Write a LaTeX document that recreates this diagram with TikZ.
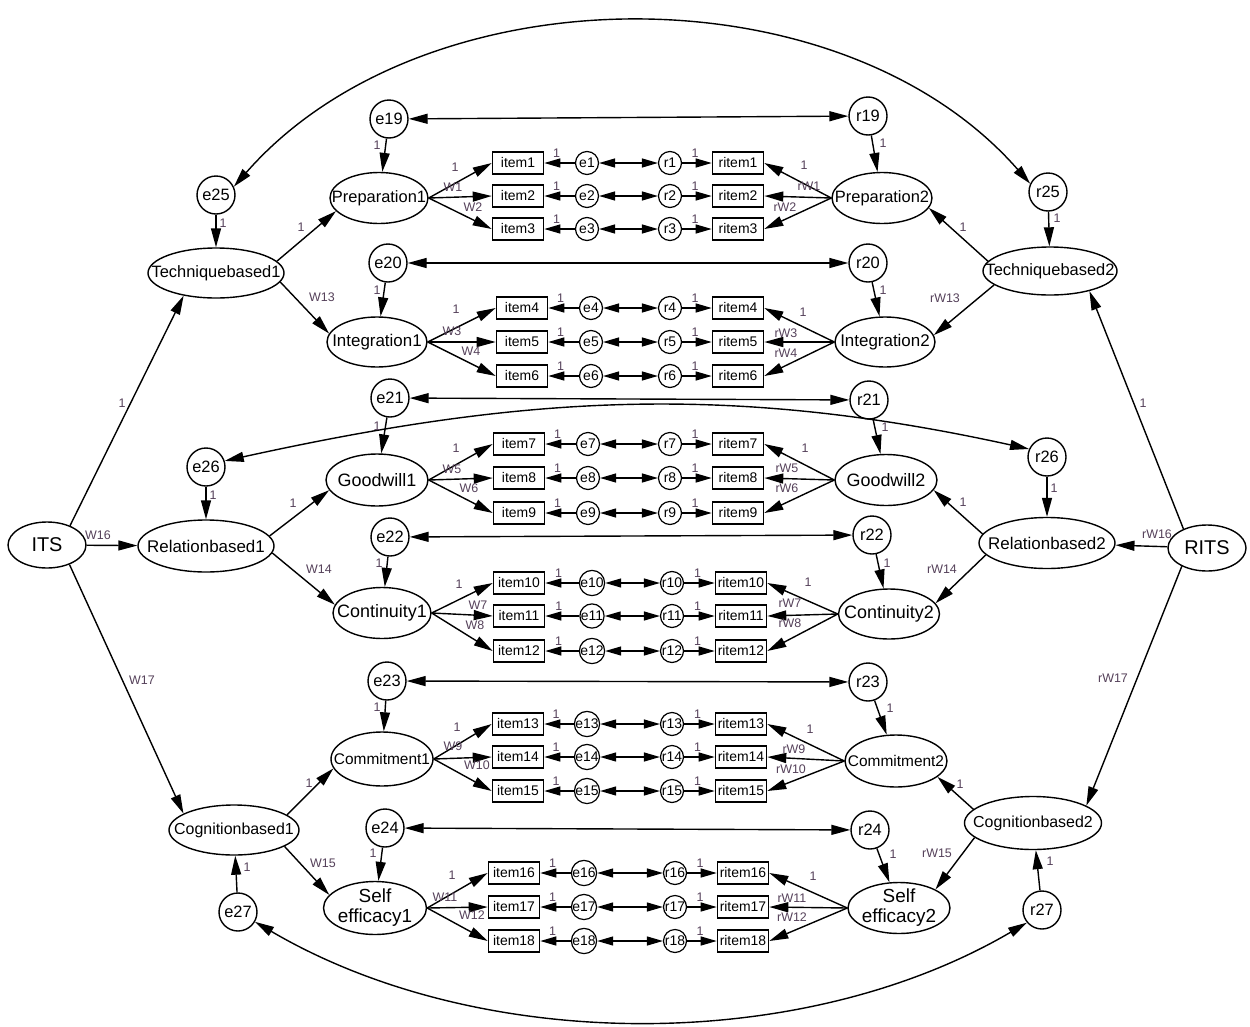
\documentclass[tikz,border=0pt]{standalone}
\usepackage{fontspec}
\setmainfont{Liberation Sans}
\usetikzlibrary{arrows.meta,shapes.geometric}
\definecolor{lblc}{RGB}{85,65,90}
\newcommand\fsz[1]{\fontsize{#1}{#1}\selectfont}
\begin{document}
\begin{tikzpicture}[x=1bp,y=-1bp,
  lat/.style={ellipse,draw,line width=1.4bp,inner xsep=-40bp,inner ysep=0pt},
  err/.style={circle,draw,line width=1.4bp,inner sep=0pt,minimum size=38bp,font=\fsz{16.5}},
  sm/.style={circle,draw,line width=1.2bp,inner sep=0pt,minimum size=23bp,font=\fsz{14}},
  box/.style={rectangle,draw,line width=1.6bp,inner sep=0pt,minimum width=51bp,minimum height=22bp,font=\fsz{14}},
  arr/.style={line width=1.4bp,-{Triangle[length=19bp,width=10bp]}},
  sarr/.style={line width=1.3bp,-{Triangle[length=16bp,width=9bp]}},
  darr/.style={line width=1.4bp,{Triangle[length=19bp,width=10bp]}-{Triangle[length=19bp,width=10bp]}},
  sdarr/.style={line width=1.3bp,{Triangle[length=16bp,width=9bp]}-{Triangle[length=16bp,width=9bp]}},
  lbl/.style={font=\fsz{12.5},text=lblc,inner sep=0pt}]
\fill[white] (0,0) rectangle (1250,1027);
\useasboundingbox (0,0) rectangle (1250,1027);

% latent variables
\node[lat,minimum width=78bp,minimum height=46bp,font=\fsz{20}] (ITS) at (47,545) {ITS};
\node[lat,minimum width=78bp,minimum height=46bp,font=\fsz{20}] (RITS) at (1207,548) {RITS};
\node[lat,minimum width=136bp,minimum height=50bp,font=\fsz{16.5}] (Tech1) at (216,273) {Techniquebased1};
\node[lat,minimum width=136bp,minimum height=52bp,font=\fsz{17}] (Rel1) at (206,546) {Relationbased1};
\node[lat,minimum width=130bp,minimum height=50bp,font=\fsz{16}] (Cog1) at (234,830) {Cognitionbased1};
\node[lat,minimum width=134bp,minimum height=48bp,font=\fsz{16.5}] (Tech2) at (1050,271) {Techniquebased2};
\node[lat,minimum width=136bp,minimum height=51bp,font=\fsz{17}] (Rel2) at (1047,543) {Relationbased2};
\node[lat,minimum width=137bp,minimum height=53bp,font=\fsz{16}] (Cog2) at (1033,823) {Cognitionbased2};
\node[lat,minimum width=98bp,minimum height=51bp,font=\fsz{16.5}] (Prep1) at (379,198) {Preparation1};
\node[lat,minimum width=100bp,minimum height=51bp,font=\fsz{16.5}] (Prep2) at (882,198) {Preparation2};
\node[lat,minimum width=100bp,minimum height=50bp,font=\fsz{17}] (Integ1) at (377,342) {Integration1};
\node[lat,minimum width=100bp,minimum height=50bp,font=\fsz{17}] (Integ2) at (885,342) {Integration2};
\node[lat,minimum width=102bp,minimum height=52bp,font=\fsz{18}] (Good1) at (377,480) {Goodwill1};
\node[lat,minimum width=102bp,minimum height=51bp,font=\fsz{18}] (Good2) at (886,480) {Goodwill2};
\node[lat,minimum width=98bp,minimum height=51bp,font=\fsz{18}] (Cont1) at (382,613) {Continuity1};
\node[lat,minimum width=101bp,minimum height=50bp,font=\fsz{18}] (Cont2) at (889,614) {Continuity2};
\node[lat,minimum width=102bp,minimum height=54bp,font=\fsz{15.5}] (Commit1) at (382,759) {Commitment1};
\node[lat,minimum width=102bp,minimum height=52bp,font=\fsz{15.5}] (Commit2) at (896,761) {Commitment2};
\node[lat,minimum width=103bp,minimum height=53bp,inner ysep=-4bp,align=center,font=\fontsize{19}{20}\selectfont] (Self1) at (375,908) {Self\\efficacy1};
\node[lat,minimum width=102bp,minimum height=51bp,inner ysep=-4bp,align=center,font=\fontsize{19}{20}\selectfont] (Self2) at (899,908) {Self\\efficacy2};

% error terms
\foreach \n/\x/\y in {e19/389/119,e20/388/263,e21/390/398,e22/390/537,e23/387/681,e24/385/828,e25/216/195,e26/206/467,e27/238/912,
  r19/868/116,r20/868/263,r21/869/400,r22/872/535,r23/868/682,r24/870/830,r25/1048/192,r26/1047/457,r27/1042/910}
  \node[err] (\n) at (\x,\y) {\n};

% item rows
\foreach \i/\y/\xi/\xe/\xr/\xq in {1/163/518/587/670/738,2/196/518/587/670/738,3/229/518/587/670/738,
  4/308/522/591/670/738,5/342/522/591/670/738,6/376/522/591/670/738,
  7/444/519/588/670/738,8/478/519/588/670/738,9/513/519/588/670/738,
  10/583/519/592/672/741,11/616/519/592/672/741,12/651/519/592/672/741,
  13/724/518/587/672/741,14/757/518/587/672/741,15/791/518/587/672/741,
  16/873/514/584/675/743,17/907/514/584/675/743,18/941/514/584/675/743}{
  \node[box] (item\i) at (\xi,\y) {item\i};
  \node[sm] (e\i) at (\xe,\y) {e\i};
  \node[sm] (r\i) at (\xr,\y) {r\i};
  \node[box] (ritem\i) at (\xq,\y) {ritem\i};
}
\foreach \i in {1,...,18}{
  \draw[sarr] (e\i) -- node[lbl,above=5bp,pos=0.6]{1} (item\i);
  \draw[sdarr] (e\i) -- (r\i);
  \draw[sarr] (r\i) -- node[lbl,above=5bp,pos=0.44]{1} (ritem\i);
}

% loadings
\foreach \L/\R/\a/\b/\c in {Prep1/Prep2/1/2/3,Integ1/Integ2/4/5/6,Good1/Good2/7/8/9,Cont1/Cont2/10/11/12,Commit1/Commit2/13/14/15,Self1/Self2/16/17/18}{
  \foreach \i in {\a,\b,\c}{
    \draw[arr] (\L.east) -- (item\i.west);
    \draw[arr] (\R.west) -- (ritem\i.east);
  }
}

% structural paths left
\draw[arr] (e25) -- (Tech1);
\draw[arr] (Tech1.11) -- (Prep1.197);
\draw[arr] (Tech1.-8) -- (Integ1.170);
\draw[arr] (e19) -- (Prep1);
\draw[arr] (e20) -- (Integ1);
\draw[arr] (e21) -- (Good1);
\draw[arr] (e22) -- (Cont1);
\draw[arr] (e23) -- (Commit1);
\draw[arr] (e24) -- (Self1);
\draw[arr] (e26) -- (Rel1);
\draw[arr] (Rel1.9) -- (Good1.192);
\draw[arr] (Rel1.-6) -- (Cont1.170);
\draw[arr] (Cog1.16) -- (Commit1.191);
\draw[arr] (Cog1.-18) -- (Self1.164);
\draw[arr] (e27) -- (Cog1);
\draw[arr] (ITS.40) -- (Tech1.215);
\draw[arr] (ITS) -- (Rel1);
\draw[arr] (ITS.-41) -- (Cog1.162);
% structural paths right
\draw[arr] (r25) -- (Tech2);
\draw[arr] (Tech2.171) -- (Prep2.-12);
\draw[arr] (Tech2.194) -- (Integ2.8);
\draw[arr] (r19) -- (Prep2);
\draw[arr] (r20) -- (Integ2);
\draw[arr] (r21) -- (Good2);
\draw[arr] (r22) -- (Cont2);
\draw[arr] (r23) -- (Commit2);
\draw[arr] (r24) -- (Self2);
\draw[arr] (r26) -- (Rel2);
\draw[arr] (r27) -- (Cog2);
\draw[arr] (Rel2.172) -- (Good2.-12);
\draw[arr] (Rel2.191) -- (Cont2.13);
\draw[arr] (Cog2.167) -- (Commit2.-21);
\draw[arr] (Cog2.194) -- (Self2.27);
\draw[arr] (RITS.141) -- (Tech2.-27);
\draw[arr] (RITS) -- (Rel2);
\draw[arr] (RITS.216) -- (Cog2.18);

% covariances
\foreach \k in {19,...,24} \draw[darr] (e\k) -- (r\k);
\draw[darr] (e25.25) .. controls +(190,-217) and +(-190,-217) .. (r25.155);
\draw[darr] (e26.18) .. controls +(300,-66) and +(-300,-66) .. (r26.156);
\draw[darr] (e27.-30) .. controls +(225,132) and +(-225,132) .. (r27.-140);

% labels
\foreach \n/\x/\y/\t in {1/223/223/1,2/377/145/1,3/301/227/1,4/322/297/W13,5/377/290/1,6/122/403/1,7/98/535/W16,
  8/213/495/1,9/293/503/1,10/319/569/W14,11/377/426/1,12/379/563/1,13/142/680/W17,14/377/707/1,15/309/783/1,
  16/323/863/W15,17/373/853/1,18/247/867/1,19/883/143/1,20/963/227/1,21/1057/218/1,22/883/290/1,23/945/298/rW13,
  24/1143/403/1,25/885/427/1,26/1054/488/1,27/963/502/1,28/1157/534/rW16,29/887/563/1,30/942/569/rW14,
  31/1113/678/rW17,32/890/708/1,33/960/784/1,34/893/854/1,35/937/853/rW15,36/1050/861/1,
  37/455/167/1,38/453/187/W1,39/473/207/W2,40/804/165/1,41/809/186/rW1,42/785/207/rW2,
  43/456/309/1,44/452/331/W3,45/471/351/W4,46/803/312/1,47/786/333/rW3,48/786/353/rW4,
  49/456/448/1,50/452/469/W5,51/469/488/W6,52/805/448/1,53/787/468/rW5,54/787/488/rW6,
  55/459/584/1,56/478/605/W7,57/475/625/W8,58/808/582/1,59/790/603/rW7,60/790/623/rW8,
  61/457/727/1,62/453/746/W9,63/477/765/W10,64/810/729/1,65/794/749/rW9,66/791/769/rW10,
  67/452/875/1,68/445/897/W11,69/472/915/W12,70/813/876/1,71/792/898/rW11,72/792/917/rW12}
  \node[lbl] (lbl\n) at (\x,\y) {\t};
\end{tikzpicture}
\end{document}
